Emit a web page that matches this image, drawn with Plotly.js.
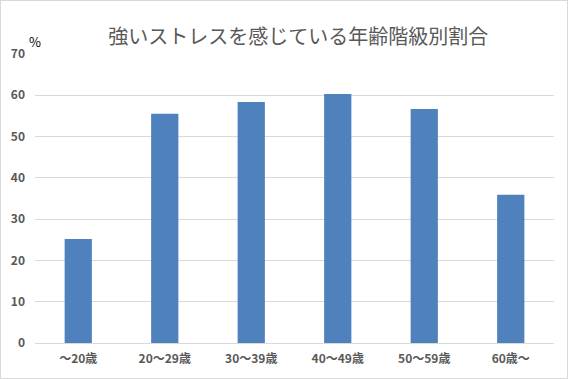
<!DOCTYPE html>
<html>
<head>
<meta charset="utf-8">
<script src="https://cdn.plot.ly/plotly-3.0.1.min.js"></script>
<style>
html,body{margin:0;padding:0;background:#fff;}
#chart{width:568px;height:379px;box-sizing:border-box;border:1px solid #d9d9d9;}
</style>
</head>
<body>
<div id="chart"></div>
<script>
const categories = ["～20歳", "20～29歳", "30～39歳", "40～49歳", "50～59歳", "60歳～"];
const values = [25.2, 55.5, 58.4, 60.3, 56.7, 35.9];
const yTicks = [0, 10, 20, 30, 40, 50, 60, 70];
const titleText = "強いストレスを感じている年齢階級別割合";
const unitLabel = "%";

const font = "'Noto Sans CJK JP', 'Noto Sans', sans-serif";

Plotly.newPlot("chart", [{
  type: "bar",
  x: categories,
  y: values,
  marker: {color: "#4f81bd"},
  hoverinfo: "x+y"
}], {
  width: 566,
  height: 377,
  margin: {l: 34, r: 13, t: 53, b: 35},
  paper_bgcolor: "#fff",
  plot_bgcolor: "#fff",
  bargap: 0.685,
  showlegend: false,
  title: {
    text: titleText,
    font: {family: font, size: 20, color: "#595959"},
    x: 0.525, xanchor: "center",
    y: 0.905, yanchor: "middle", yref: "container"
  },
  xaxis: {
    type: "category",
    showgrid: false,
    showline: true,
    linecolor: "#d9d9d9",
    linewidth: 1,
    ticks: "",
    tickfont: {family: font, size: 12, color: "#595959", weight: "bold"},
    ticklabelstandoff: 5,
    fixedrange: true
  },
  yaxis: {
    range: [0, 70],
    tickvals: yTicks,
    showgrid: true,
    gridcolor: "#d9d9d9",
    gridwidth: 1,
    zeroline: false,
    showline: false,
    ticks: "",
    tickfont: {family: font, size: 12, color: "#595959", weight: "bold"},
    ticklabelstandoff: 9,
    fixedrange: true
  },
  annotations: [{
    text: unitLabel,
    xref: "paper", yref: "paper",
    x: 0, y: 1,
    xanchor: "center", yanchor: "bottom",
    yshift: 1,
    showarrow: false,
    font: {family: font, size: 13, color: "#000"}
  }]
}, {displayModeBar: false, staticPlot: true});
</script>
</body>
</html>
